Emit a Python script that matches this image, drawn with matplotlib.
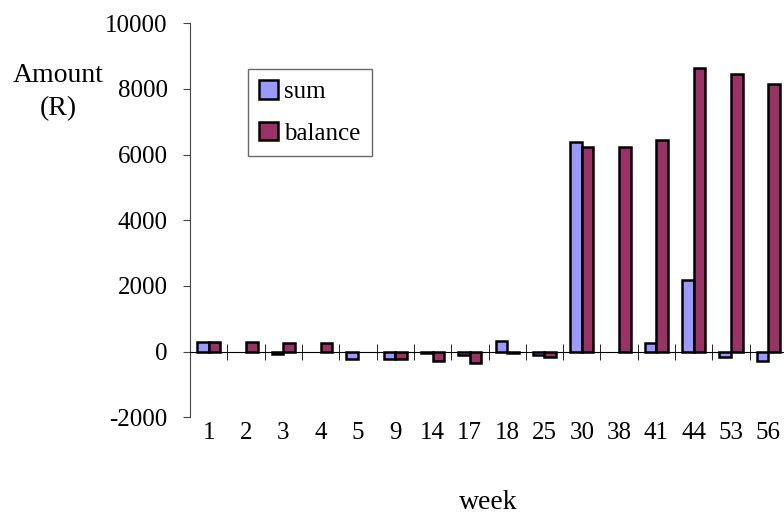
import numpy as np
import matplotlib
matplotlib.use("Agg")
import matplotlib.pyplot as plt

weeks = ['1', '2', '3', '4', '5', '9', '14', '17', '18', '25', '30', '38', '41', '44', '53', '56']
sum_vals = [300, 0, -60, 0, -230, -230, -50, -100, 330, -100, 6400, 0, 260, 2180, -170, -300]
balance_vals = [300, 290, 250, 250, 0, -230, -300, -350, -50, -170, 6220, 6220, 6460, 8640, 8460, 8160]

plt.rcParams['font.family'] = ['Liberation Serif', 'DejaVu Serif']
plt.rcParams['axes.unicode_minus'] = False

fig = plt.figure(figsize=(7.84, 5.19), dpi=100)
ax = fig.add_axes([190 / 784, (519 - 417.3) / 519, 597 / 784, 394 / 519])

x = np.arange(len(weeks))
w = 0.31
# zero entries are not drawn (no flat outline)
s_plot = [v if v != 0 else np.nan for v in sum_vals]
b_plot = [v if v != 0 else np.nan for v in balance_vals]
ax.bar(x - w / 2, s_plot, w, color='#9999FF', edgecolor='black', linewidth=1.8, label='sum')
ax.bar(x + w / 2, b_plot, w, color='#993366', edgecolor='black', linewidth=1.8, label='balance')

ax.set_xlim(-0.5, len(weeks) - 0.5)
ax.set_ylim(-2000, 10000)
ax.set_yticks(range(-2000, 10001, 2000))
ax.tick_params(axis='y', labelsize=18, length=5, color='#444444', pad=11)

for s in ['top', 'right']:
    ax.spines[s].set_visible(False)
ax.spines['left'].set_color('#444444')
ax.spines['bottom'].set_position(('data', 0))
ax.spines['bottom'].set_color('black')

ax.set_xticks(x)
ax.set_xticklabels(weeks)
ax.set_xticks(np.arange(-0.5, len(weeks) - 0.4, 1), minor=True)
ax.tick_params(axis='x', which='major', length=0, labelsize=18, pad=51)
ax.tick_params(axis='x', which='minor', direction='inout', length=12, color='black')

ax.set_xlabel('week', fontsize=20, labelpad=33)
fig.text(58 / 784, 1 - 92 / 519, 'Amount\n(R)', fontsize=20, ha='center', va='center',
         linespacing=1.45)

leg = ax.legend(loc='upper left', bbox_to_anchor=((248 - 190) / 597, (417.3 - 69) / 394),
                fontsize=18, frameon=True, fancybox=False, handlelength=0.75, handleheight=0.75,
                handletextpad=0.25, borderpad=0.45, labelspacing=0.75, borderaxespad=0)
leg.get_frame().set_edgecolor('#444444')
leg.get_frame().set_linewidth(1)

fig.savefig('out.png', dpi=100)
